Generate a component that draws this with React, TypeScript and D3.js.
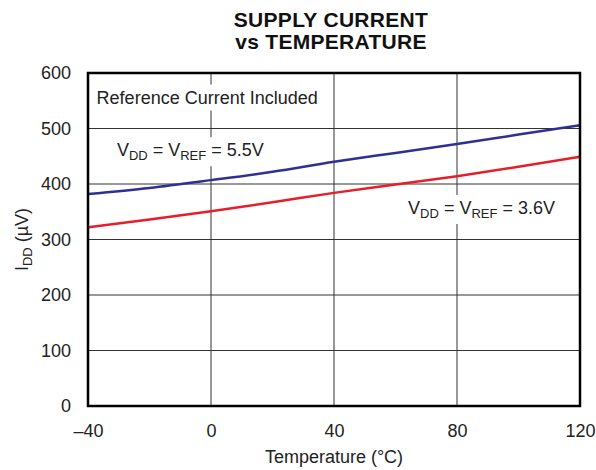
import React, { useEffect, useRef } from 'react';
import * as d3 from 'd3';

const temps = [-40, -20, 0, 20, 40, 60, 80, 100, 120];
const current55 = [382, 393, 407, 422, 440, 456, 472, 489, 506];
const current36 = [322, 336, 351, 367, 384, 399, 414, 431, 449];
const xTicks = [-40, 0, 40, 80, 120];
const yTicks = [0, 100, 200, 300, 400, 500, 600];

const FONT = 'Liberation Sans, Arial, Helvetica, sans-serif';
const FS = 18;
const SUB = 13;

export default function App() {
  const chartRef = useRef<SVGSVGElement>(null);

  useEffect(() => {
    const svg = d3.select(chartRef.current);
    svg.selectAll('*').remove();

    const margin = { top: 73, right: 16, bottom: 64, left: 88 };
    const width = 596 - margin.left - margin.right;
    const height = 470 - margin.top - margin.bottom;

    const x = d3.scaleLinear().domain([-40, 120]).range([0, width]);
    const y = d3.scaleLinear().domain([0, 600]).range([height, 0]);

    const g = svg
      .append('g')
      .attr('transform', `translate(${margin.left},${margin.top})`);

    // title, two lines
    const tx = 331;
    [
      { t: 'SUPPLY CURRENT', y: 27 },
      { t: 'vs TEMPERATURE', y: 49 },
    ].forEach((l) => {
      svg
        .append('text')
        .attr('x', tx)
        .attr('y', l.y)
        .attr('text-anchor', 'middle')
        .attr('font-family', FONT)
        .attr('font-weight', 'bold')
        .attr('font-size', 21)
        .attr('letter-spacing', 0.3)
        .attr('fill', '#111')
        .text(l.t);
    });

    // grid
    g.selectAll('.hgrid')
      .data(yTicks.slice(1, -1))
      .enter()
      .append('line')
      .attr('x1', 0)
      .attr('x2', width)
      .attr('y1', (d) => y(d))
      .attr('y2', (d) => y(d))
      .attr('stroke', '#333')
      .attr('stroke-width', 1);

    g.selectAll('.vgrid')
      .data(xTicks.slice(1, -1))
      .enter()
      .append('line')
      .attr('x1', (d) => x(d))
      .attr('x2', (d) => x(d))
      .attr('y1', 0)
      .attr('y2', height)
      .attr('stroke', '#333')
      .attr('stroke-width', 1);

    // curves
    const line = d3
      .line<number>()
      .x((_, i) => x(temps[i]))
      .y((d) => y(d))
      .curve(d3.curveMonotoneX);

    g.append('path')
      .attr('d', line(current36))
      .attr('fill', 'none')
      .attr('stroke', '#e61e2a')
      .attr('stroke-width', 2.5);

    g.append('path')
      .attr('d', line(current55))
      .attr('fill', 'none')
      .attr('stroke', '#2e3192')
      .attr('stroke-width', 2.5);

    // labels with white backgrounds
    const addLabel = (
      lx: number,
      ly: number,
      parts: { t: string; sub?: boolean }[],
    ) => {
      const txt = g
        .append('text')
        .attr('x', lx)
        .attr('y', ly)
        .attr('font-family', FONT)
        .attr('font-size', FS)
        .attr('fill', '#222');
      parts.forEach((p, i) => {
        const prev = i > 0 ? parts[i - 1] : null;
        let dy = 0;
        if (p.sub && !(prev && prev.sub)) dy = 4;
        if (!p.sub && prev && prev.sub) dy = -4;
        const ts = txt.append('tspan').attr('dy', dy).text(p.t);
        if (p.sub) ts.attr('font-size', SUB);
      });
      const bb = (txt.node() as SVGTextElement).getBBox();
      g.insert('rect', 'text')
        .attr('x', bb.x - 4)
        .attr('y', bb.y - 3)
        .attr('width', bb.width + 8)
        .attr('height', bb.height + 6)
        .attr('fill', '#fff');
    };

    addLabel(x(-37.2), y(545), [{ t: 'Reference Current Included' }]);
    addLabel(x(-30.6), y(450), [
      { t: 'V' },
      { t: 'DD', sub: true },
      { t: ' = V' },
      { t: 'REF', sub: true },
      { t: ' = 5.5V' },
    ]);
    addLabel(x(64.1), y(346), [
      { t: 'V' },
      { t: 'DD', sub: true },
      { t: ' = V' },
      { t: 'REF', sub: true },
      { t: ' = 3.6V' },
    ]);

    // border
    g.append('rect')
      .attr('x', 0)
      .attr('y', 0)
      .attr('width', width)
      .attr('height', height)
      .attr('fill', 'none')
      .attr('stroke', '#000')
      .attr('stroke-width', 2.5);

    // axes
    const xAxis = g
      .append('g')
      .attr('transform', `translate(0,${height})`)
      .call(
        d3
          .axisBottom(x)
          .tickValues(xTicks)
          .tickSize(0)
          .tickPadding(18)
          .tickFormat((d) => {
            const v = d as number;
            return v < 0 ? `\u2013${Math.abs(v)}` : `${v}`;
          }),
      );
    xAxis.select('.domain').remove();
    xAxis
      .selectAll('text')
      .attr('font-family', FONT)
      .attr('font-size', FS)
      .attr('fill', '#222');

    const yAxis = g
      .append('g')
      .call(d3.axisLeft(y).tickValues(yTicks).tickSize(0).tickPadding(17));
    yAxis.select('.domain').remove();
    yAxis
      .selectAll('text')
      .attr('font-family', FONT)
      .attr('font-size', FS)
      .attr('fill', '#222');

    // axis titles
    svg
      .append('text')
      .attr('x', margin.left + width / 2)
      .attr('y', 463)
      .attr('text-anchor', 'middle')
      .attr('font-family', FONT)
      .attr('font-size', FS)
      .attr('fill', '#222')
      .text('Temperature (\u00b0C)');

    const yt = svg
      .append('text')
      .attr('transform', `translate(28,${margin.top + height / 2}) rotate(-90)`)
      .attr('text-anchor', 'middle')
      .attr('font-family', FONT)
      .attr('font-size', FS)
      .attr('fill', '#222');
    yt.append('tspan').text('I');
    yt.append('tspan').attr('font-size', SUB).attr('dy', 4).text('DD');
    yt.append('tspan').attr('dy', -4).text(' (\u00b5V)');
  });

  return (
    <svg
      ref={chartRef}
      width={596}
      height={470}
      style={{ position: 'absolute', left: 0, top: 0, background: '#fff' }}
    ></svg>
  );
}
